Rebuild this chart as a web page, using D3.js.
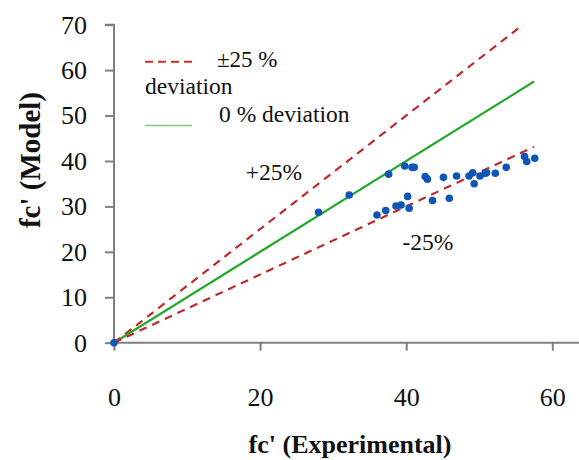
<!DOCTYPE html>
<html><head><meta charset="utf-8">
<script src="https://cdn.jsdelivr.net/npm/d3@7"></script>
<style>body{margin:0;background:#fff}svg{display:block}svg text{font-family:'Times New Roman','Liberation Serif','DejaVu Serif',serif !important}</style>
</head><body><svg id="c" width="579" height="460"></svg>
<script>
const experimental = [0, 28.0, 32.2, 36.0, 37.2, 37.6, 38.6, 39.3, 39.8, 40.2, 40.4, 40.8, 41.1, 42.6, 42.9, 43.6, 45.1, 45.9, 46.9, 48.6, 49.1, 49.3, 50.1, 50.8, 51.0, 52.2, 53.7, 56.2, 56.5, 57.6];
const model = [0, 28.7, 32.5, 28.1, 29.1, 37.1, 30.1, 30.3, 38.9, 32.2, 29.6, 38.6, 38.6, 36.6, 36.0, 31.3, 36.4, 31.8, 36.7, 36.7, 37.4, 35.0, 36.7, 37.3, 37.4, 37.3, 38.6, 41.0, 39.9, 40.6];
const lineNames = ["+25%", "0%", "-25%"];
const lineFactors = [1.25, 1.0, 0.75];
const lineEndX = [56, 57.5, 57.5];
const xTicks = [0, 20, 40, 60];
const yTicks = [0, 10, 20, 30, 40, 50, 60, 70];
const legendLabels = ["\u00b125 %", "deviation", "0 % deviation"];

const FONT = "'Times New Roman','Liberation Serif','DejaVu Serif',serif";
const svg = d3.select("#c").attr("font-family", FONT);
const x = d3.scaleLinear().domain([0, 64]).range([114, 114 + 64 * 7.305]);
const y = d3.scaleLinear().domain([0, 70]).range([342.7, 24.7]);
const axisColor = "#7f7f7f";

// axes
const gx = svg.append("g").attr("transform", `translate(0,${y(0)})`)
  .call(d3.axisBottom(x).tickValues(xTicks).tickSize(8).tickPadding(37).tickFormat(d3.format("d")));
const gy = svg.append("g").attr("transform", `translate(${x(0)},0)`)
  .call(d3.axisLeft(y).tickValues(yTicks).tickSize(9).tickPadding(18).tickSizeOuter(9).tickFormat(d3.format("d")));
[gx, gy].forEach(g => {
  g.attr("font-family", FONT);
  g.select(".domain").attr("stroke", axisColor).attr("stroke-width", 2);
  g.selectAll(".tick line").attr("stroke", axisColor).attr("stroke-width", 2);
  g.selectAll(".tick text").attr("fill", "#111").attr("font-family", FONT).style("font-size", "26px");
});
gx.select(".domain").attr("d", `M${x(0)},0H579`);
gy.select(".domain").attr("d", `M-9,${y(70)}H0V${y(0)}`);

// reference lines
const styles = [
  {stroke: "#be2a2e", width: 2.2, dash: "8,6"},
  {stroke: "#22a82a", width: 2.2, dash: null},
  {stroke: "#be2a2e", width: 2.2, dash: "8,6"}
];
lineFactors.forEach((f, i) => {
  const l = svg.append("line")
    .attr("x1", x(0)).attr("y1", y(0))
    .attr("x2", x(lineEndX[i])).attr("y2", y(lineEndX[i] * f))
    .attr("stroke", styles[i].stroke).attr("stroke-width", styles[i].width);
  if (styles[i].dash) l.attr("stroke-dasharray", styles[i].dash);
});

// points
svg.append("g").selectAll("circle").data(experimental).join("circle")
  .attr("cx", (d) => x(d)).attr("cy", (d, i) => y(model[i]))
  .attr("r", 3.8).attr("fill", "#0f55b8");

// annotations
function txt(xp, yp, s, size, anchor, weight) {
  return svg.append("text").attr("x", xp).attr("y", yp).attr("text-anchor", anchor || "start")
    .attr("font-family", FONT).style("font-size", size + "px").style("font-weight", weight || "normal")
    .attr("fill", "#111").text(s);
}
txt(274, 180, lineNames[0], 23.5, "middle");
txt(428, 250, lineNames[2], 23.5, "middle");

// legend
svg.append("line").attr("x1", 145).attr("x2", 194).attr("y1", 61.7).attr("y2", 61.7)
  .attr("stroke", "#d0282c").attr("stroke-width", 2).attr("stroke-dasharray", "8,5");
txt(217, 66.5, legendLabels[0], 23);
txt(145, 94, legendLabels[1], 23.5);
svg.append("line").attr("x1", 145).attr("x2", 192).attr("y1", 125.5).attr("y2", 125.5)
  .attr("stroke", "#86c486").attr("stroke-width", 1.6);
txt(219, 121.5, legendLabels[2], 23.5);

// axis titles
txt(350, 453, "fc' (Experimental)", 26, "middle", "bold");
svg.append("text").attr("transform", "translate(40,160) rotate(-90)").attr("text-anchor", "middle")
  .attr("font-family", FONT).style("font-size", "29px").style("font-weight", "bold")
  .attr("fill", "#111").text("fc' (Model)");
</script></body></html>
